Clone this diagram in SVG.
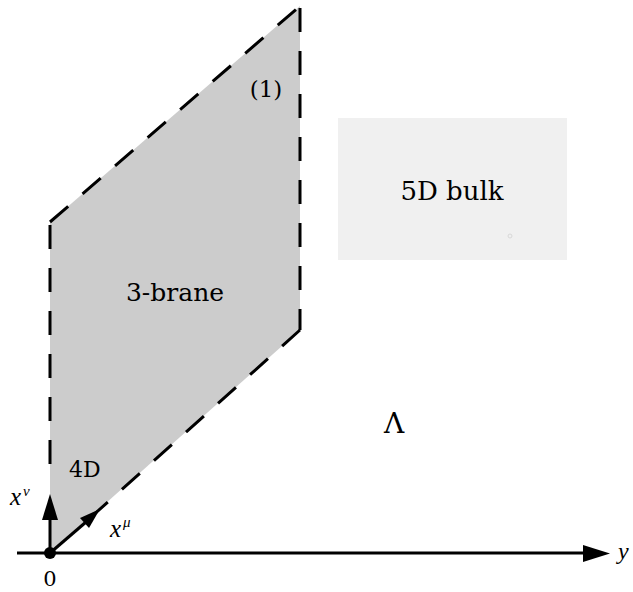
<svg xmlns="http://www.w3.org/2000/svg" width="633" height="592" viewBox="0 0 633 592">
<style>
.t{font-family:"DejaVu Serif","Liberation Serif",serif;fill:#000}
.m{font-family:"Liberation Serif","DejaVu Serif",serif;font-style:italic;fill:#000}
.dash{stroke:#000;stroke-width:3;fill:none;stroke-dasharray:24 19}
.ax{stroke:#000;stroke-width:3;fill:none}
</style>
<rect width="633" height="592" fill="#fff"/>
<g id="brane">
<polygon points="50,222 300,6 300,330 50,553" fill="#cccccc"/>
<text class="t" x="175" y="301" font-size="25" text-anchor="middle">3-brane</text>
<text class="t" x="266" y="97" font-size="23" text-anchor="middle">(1)</text>
<text class="t" x="69" y="477" font-size="22">4D</text>
</g>
<g id="bulk">
<rect x="338" y="118" width="229" height="142" fill="#f0f0f0"/>
<circle cx="510" cy="236" r="2" fill="none" stroke="#d8d8d8" stroke-width="1"/>
<text class="t" x="452" y="200" font-size="26" text-anchor="middle">5D bulk</text>
</g>
<g id="lambda">
<text class="t" x="394" y="433" font-size="28" text-anchor="middle">Λ</text>
</g>
<g id="connectors">
<line class="dash" x1="50" y1="225" x2="50" y2="480"/>
<line class="dash" x1="50" y1="222" x2="300" y2="6"/>
<line class="dash" x1="300" y1="8" x2="300" y2="330"/>
<line class="dash" x1="300" y1="330" x2="90" y2="518"/>
<line class="ax" x1="17" y1="553" x2="585" y2="553"/>
<polygon points="583,545 610,553.5 583,562" fill="#000"/>
<line class="ax" x1="50" y1="553" x2="50" y2="518"/>
<polygon points="42,520 50,494 58,520" fill="#000"/>
<line class="ax" x1="50" y1="553" x2="86" y2="522"/>
<polygon points="80,518 100,509 89,528" fill="#000"/>
<circle cx="50" cy="553" r="6" fill="#000"/>
</g>
<g id="labels">
<text class="t" x="50" y="586" font-size="21" text-anchor="middle">0</text>
<text class="m" x="10" y="505" font-size="25">x</text>
<text class="m" x="23" y="496" font-size="15">ν</text>
<text class="m" x="110" y="537" font-size="25">x</text>
<text class="m" x="123" y="527" font-size="15">μ</text>
<text class="m" x="618" y="559" font-size="24">y</text>
</g>
</svg>
